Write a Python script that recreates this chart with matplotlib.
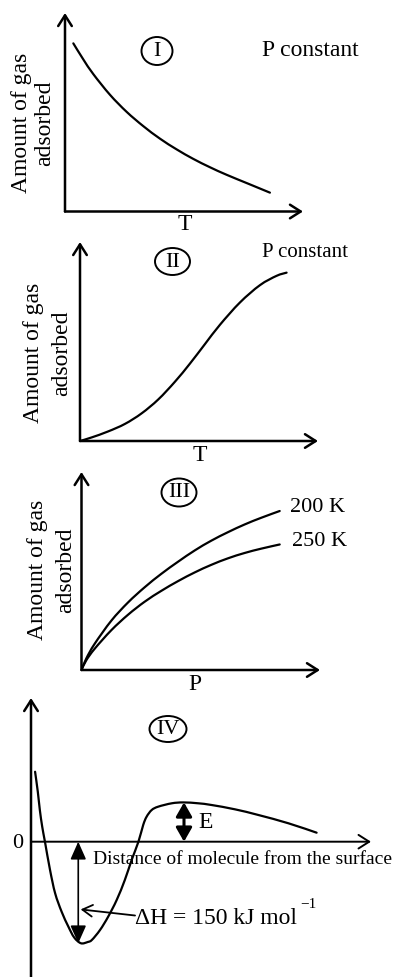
import matplotlib
matplotlib.use("Agg")
import matplotlib.pyplot as plt
import numpy as np
from matplotlib.patches import Ellipse, PathPatch
from matplotlib.path import Path

plt.rcParams['font.family'] = ['Liberation Serif', 'DejaVu Serif']

# ---- data -------------------------------------------------------------
# I : amount adsorbed vs temperature (physisorption, P constant)
t1 = [0.35, 0.77, 1.19, 1.89, 2.59, 3.29, 3.99, 4.69, 5.39, 6.09, 6.79, 7.70, 8.61]
a1 = [8.47, 7.66, 6.92, 5.88, 5.02, 4.30, 3.67, 3.13, 2.65, 2.23, 1.85, 1.40, 0.95]

# II : amount adsorbed vs temperature (chemisorption, P constant)
t2 = [0, 0.49, 1.18, 1.89, 2.59, 3.29, 3.99, 4.62, 5.25, 5.88, 6.72, 7.56, 8.26, 8.68]
a2 = [0, 0.18, 0.48, 0.86, 1.39, 2.09, 2.98, 3.89, 4.87, 5.84, 6.96, 7.83, 8.30, 8.46]

# III : adsorption isotherms at two temperatures
p3 = [0, 0.20, 0.55, 1.25, 1.95, 2.65, 3.35, 4.05, 4.75, 5.44, 6.14, 6.84, 7.54, 8.31]
a3_200 = [0, 0.58, 1.32, 2.49, 3.41, 4.18, 4.86, 5.47, 6.04, 6.53, 6.96, 7.35, 7.69, 8.03]
a3_250 = [0, 0.49, 1.07, 2.01, 2.79, 3.45, 4.00, 4.49, 4.93, 5.31, 5.64, 5.91, 6.13, 6.34]
iso_labels = ["200 K", "250 K"]

# IV : potential energy (kJ/mol) vs distance of molecule from the surface
d4 = [0.12, 0.20, 0.26, 0.33, 0.41, 0.56, 0.71, 0.90, 1.10, 1.27, 1.47, 1.67, 1.79,
      2.03, 2.27, 2.52, 2.76, 2.96, 3.16, 3.30, 3.40, 3.55, 3.74, 4.14, 4.48, 4.92,
      5.31, 6.00, 6.69, 7.57, 8.40]
e4 = [103.3, 73.8, 46.8, 22.1, 0, -41.8, -76.2, -103.3, -125.5, -141.4, -150, -148.1,
      -145.1, -130.4, -110.7, -86.1, -56.5, -27.0, 0, 24.7, 36.9, 46.8, 51.7, 56.7, 58.0,
      56.7, 54.2, 47.8, 39.4, 27.2, 13.3]
DELTA_H = 150          # kJ/mol, depth of the well
E_PEAK = 58            # height of the barrier above zero
x_dh, x_e = 1.39, 4.50

# ---- figure -----------------------------------------------------------
W, H = 399, 977
fig = plt.figure(figsize=(W / 100, H / 100), dpi=100)
fig.patch.set_facecolor('white')


def fx(x):
    return x / W


def fy(y):
    return 1 - y / H


def panel(left, bottom, right, top, xlim, ylim):
    ax = fig.add_axes([fx(left), fy(bottom), (right - left) / W, (bottom - top) / H])
    ax.set_xlim(*xlim)
    ax.set_ylim(*ylim)
    ax.axis('off')
    return ax


def smooth_curve(ax, xs, ys, lw=1.6):
    """Draw a smooth line through the points (Catmull-Rom as cubic Bezier),
    built in display space so the curve shape is unaffected by axis scaling."""
    pts = ax.transData.transform(np.column_stack([xs, ys]))
    n = len(pts)
    verts = [pts[0]]
    codes = [Path.MOVETO]
    for i in range(n - 1):
        p0 = pts[i - 1] if i > 0 else pts[i]
        p1, p2 = pts[i], pts[i + 1]
        p3 = pts[i + 2] if i + 2 < n else pts[i + 1]
        c1 = p1 + (p2 - p0) / 6.0
        c2 = p2 - (p3 - p1) / 6.0
        verts += [c1, c2, p2]
        codes += [Path.CURVE4] * 3
    path = Path(ax.transData.inverted().transform(np.array(verts)), codes)
    ax.add_patch(PathPatch(path, fill=False, lw=lw, edgecolor='black',
                           capstyle='round', joinstyle='round'))


def axis_arrow(ax, start, end, lw=1.8):
    ax.annotate('', xy=end, xytext=start, annotation_clip=False,
                arrowprops=dict(arrowstyle='->,head_length=0.55,head_width=0.35',
                                lw=lw, color='black', shrinkA=0, shrinkB=0,
                                mutation_scale=14))


def ftext(x, y, s, size=16, **kw):
    kw.setdefault('ha', 'center')
    kw.setdefault('va', 'center')
    fig.text(fx(x), fy(y), s, fontsize=size, color='black', **kw)


def numeral(x, y, s, w, h):
    fig.add_artist(Ellipse((fx(x), fy(y)), w / W, h / H, transform=fig.transFigure,
                           fill=False, lw=1.4, edgecolor='black'))
    ftext(x, y + 0.5, s, size=16)


def ylabel(xa, xb, y):
    ftext(xa, y, "Amount of gas", size=17, rotation=90)
    ftext(xb, y, "adsorbed", size=17, rotation=90)


# Panel I
ax1 = panel(65, 211.5, 303, 13, (0, 10), (0, 10))
axis_arrow(ax1, (0, 0), (10, 0))
axis_arrow(ax1, (0, 0), (0, 10))
smooth_curve(ax1, t1, a1)
ftext(262, 50, "P constant", size=17, ha='left')
ftext(185, 225, "T", size=17)
numeral(157, 51, "I", 31, 28)
ylabel(22, 45, 123)

# Panel II
ax2 = panel(80, 441, 318, 242, (0, 10), (0, 10))
axis_arrow(ax2, (0, 0), (10, 0))
axis_arrow(ax2, (0, 0), (0, 10))
smooth_curve(ax2, t2, a2)
ftext(262, 253, "P constant", size=15, ha='left')
ftext(200, 455, "T", size=17)
numeral(172.5, 261.5, "II", 35, 27)
ylabel(34, 62, 353)

# Panel III
ax3 = panel(81.5, 670, 320, 472, (0, 10), (0, 10))
axis_arrow(ax3, (0, 0), (10, 0))
axis_arrow(ax3, (0, 0), (0, 10))
smooth_curve(ax3, p3, a3_200)
smooth_curve(ax3, p3, a3_250)
ftext(290, 508, iso_labels[0], size=16, ha='left')
ftext(292, 542, iso_labels[1], size=16, ha='left')
ftext(195, 684, "P", size=17)
numeral(179, 492.5, "III", 35, 28)
ylabel(37, 66, 570)

# Panel IV
ymin4, ymax4 = -199.8, 212.2
ax4 = panel(31, 977, 371, 698, (0, 10), (ymin4, ymax4))
axis_arrow(ax4, (0, 0), (10, 0), lw=1.4)
axis_arrow(ax4, (0, ymin4), (0, ymax4))
smooth_curve(ax4, d4, e4)
# activation barrier E
ax4.annotate('', xy=(x_e, E_PEAK), xytext=(x_e, 0),
             arrowprops=dict(arrowstyle='<|-|>,head_length=0.7,head_width=0.4',
                             lw=2.2, color='black', shrinkA=0, shrinkB=0,
                             mutation_scale=12))
# enthalpy of adsorption
ax4.annotate('', xy=(x_dh, -DELTA_H), xytext=(x_dh, 0),
             arrowprops=dict(arrowstyle='<|-|>,head_length=0.9,head_width=0.4',
                             lw=1.2, color='black', shrinkA=0, shrinkB=0,
                             mutation_scale=12))
ax4.annotate('', xy=(x_dh + 0.07, -100), xytext=(3.06, -109),
             arrowprops=dict(arrowstyle='->,head_length=0.6,head_width=0.35',
                             lw=1.3, color='black', shrinkA=0, shrinkB=0,
                             mutation_scale=12))
ftext(198, 823, "E", size=17, ha='left')
ftext(18, 843, "0", size=16)
ftext(93, 859, "Distance of molecule from the surface", size=14, ha='left')
ftext(135, 918, f"ΔH = {DELTA_H} kJ mol", size=17, ha='left')
ftext(300, 904, "−1", size=11, ha='left')
numeral(168, 729, "IV", 37, 26)

fig.savefig("out.png", dpi=100, facecolor='white')
